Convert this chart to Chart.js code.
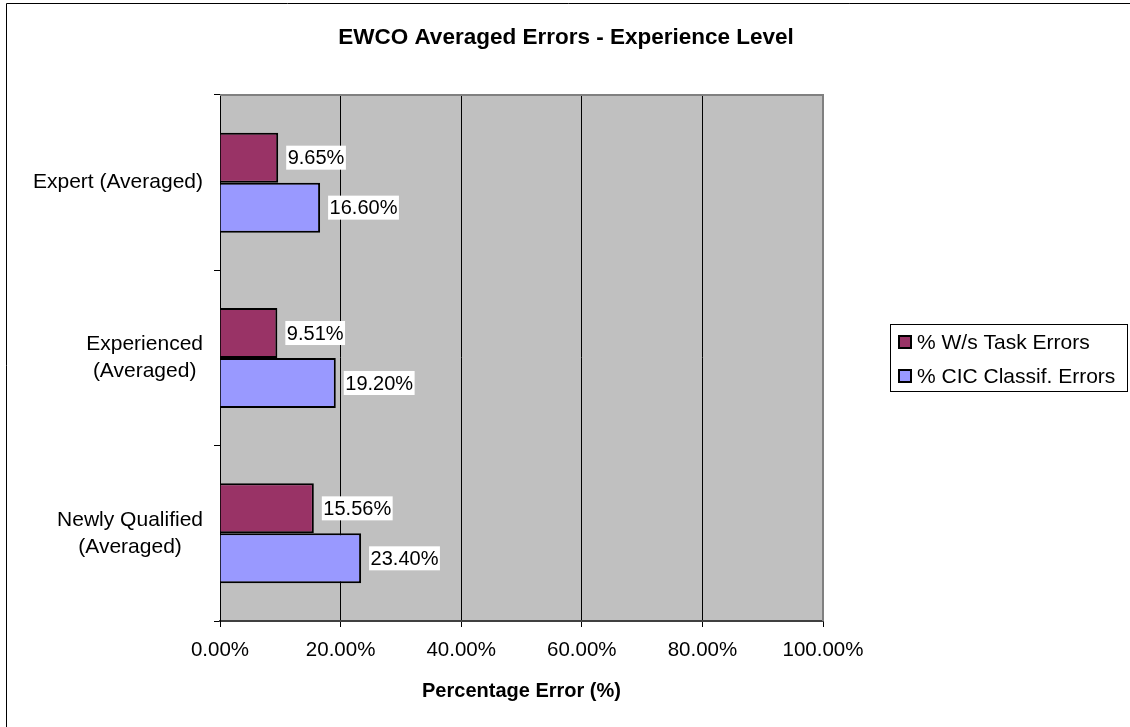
<!DOCTYPE html>
<html lang="en">
<head>
    <meta charset="UTF-8">
    <title>EWCO Averaged Errors - Experience Level</title>
    <script src="https://cdn.jsdelivr.net/npm/chart.js@4.4.0/dist/chart.umd.min.js"></script>
    <style>
        body{
            margin: 0;
            background: #fff;
        }
        #wrap{
            width: 1130px;
            height: 727px;
            position: relative;
        }
    </style>
</head>
<body>
    <div id="wrap">
        <canvas id="canvas"></canvas>
    </div>

<script>
    // categories, top to bottom
    var levels = [
        ['Expert (Averaged)'],
        ['Experienced', '(Averaged)'],
        ['Newly Qualified', '(Averaged)']
    ];
    var taskErrors = [9.65, 9.51, 15.56];      // % W/s Task Errors
    var cicErrors = [16.60, 19.20, 23.40];     // % CIC Classif. Errors
    var seriesNames = ['% W/s Task Errors', '% CIC Classif. Errors'];
    var xTicks = [0, 20, 40, 60, 80, 100];
    var chartTitle = 'EWCO Averaged Errors - Experience Level';

    var FONT = "'Liberation Sans', Arial, sans-serif";

    // white page with the frame line on the left and top, title across the page
    var frame = {
        id: 'frame',
        beforeDraw: function(chart){
            var c = chart.ctx;
            c.save();
            c.fillStyle = '#fff';
            c.fillRect(0, 0, chart.width, chart.height);
            c.strokeStyle = '#000';
            c.lineWidth = 1;
            c.beginPath();
            c.moveTo(6.5, chart.height);
            c.lineTo(6.5, 3.5);
            c.lineTo(chart.width, 3.5);
            c.stroke();
            // grey plot area
            var a = chart.chartArea;
            c.fillStyle = '#C0C0C0';
            c.fillRect(a.left, a.top, a.right - a.left, a.bottom - a.top);
            // title
            c.fillStyle = '#000';
            c.font = 'bold 22.5px ' + FONT;
            c.textAlign = 'center';
            c.textBaseline = 'middle';
            c.fillText(chartTitle, 566, 38);
            c.restore();
        },
        beforeDatasetsDraw: function(chart){
            var c = chart.ctx, a = chart.chartArea;
            c.save();
            c.strokeStyle = '#808080';
            c.lineWidth = 2;
            c.beginPath();
            c.moveTo(a.left, a.top);
            c.lineTo(a.right, a.top);
            c.lineTo(a.right, a.bottom);
            c.stroke();
            c.restore();
        }
    };

    // category labels: block right-aligned, lines centred inside the block
    var catLabels = {
        id: 'catLabels',
        afterDraw: function(chart){
            var c = chart.ctx, y = chart.scales.y;
            c.save();
            c.font = '21px ' + FONT;
            c.fillStyle = '#000';
            c.textAlign = 'center';
            c.textBaseline = 'middle';
            levels.forEach(function(lines, i){
                var w = 0;
                lines.forEach(function(s){ w = Math.max(w, c.measureText(s).width); });
                var cx = y.right - 17 - w / 2;
                var cy = y.getPixelForTick(i);
                lines.forEach(function(s, j){
                    c.fillText(s, cx, cy + (j - (lines.length - 1) / 2) * 27);
                });
            });
            c.restore();
        }
    };

    // value boxes at the end of every bar
    var valueLabels = {
        id: 'valueLabels',
        afterDatasetsDraw: function(chart){
            var c = chart.ctx;
            c.save();
            c.font = '20px ' + FONT;
            c.textBaseline = 'middle';
            c.textAlign = 'left';
            chart.data.datasets.forEach(function(ds, di){
                chart.getDatasetMeta(di).data.forEach(function(bar, i){
                    var txt = ds.data[i].toFixed(2) + '%';
                    var w = c.measureText(txt).width;
                    var x = bar.x + 8;
                    c.fillStyle = '#fff';
                    c.fillRect(x, bar.y - 12, w + 3, 24);
                    c.fillStyle = '#000';
                    c.fillText(txt, x + 1.5, bar.y + 1);
                });
            });
            c.restore();
        }
    };

    // boxed legend to the right of the plot
    var boxLegend = {
        id: 'boxLegend',
        afterDraw: function(chart){
            var c = chart.ctx;
            var lx = 890, ly = 324, lw = 238, lh = 68;
            c.save();
            c.fillStyle = '#fff';
            c.fillRect(lx, ly, lw, lh);
            c.strokeStyle = '#000';
            c.lineWidth = 1;
            c.strokeRect(lx + 0.5, ly + 0.5, lw - 1, lh - 1);
            c.font = '21px ' + FONT;
            c.textBaseline = 'middle';
            chart.data.datasets.forEach(function(ds, i){
                var cy = ly + 18 + i * 34;
                c.fillStyle = ds.backgroundColor;
                c.fillRect(899, cy - 6, 12, 12);
                c.lineWidth = 2;
                c.strokeStyle = '#000';
                c.strokeRect(899, cy - 6, 12, 12);
                c.fillStyle = '#000';
                c.fillText(ds.label, 917, cy + 1);
            });
            c.restore();
        }
    };

    var ctx = document.getElementById('canvas').getContext('2d');
    var myChart = new Chart(ctx, {
        type: 'bar',
        data: {
            labels: levels,
            datasets: [{
                label: seriesNames[0],
                data: taskErrors,
                backgroundColor: '#993366',
                borderColor: '#000',
                borderWidth: 2
            }, {
                label: seriesNames[1],
                data: cicErrors,
                backgroundColor: '#9999FF',
                borderColor: '#000',
                borderWidth: 2
            }]
        },
        options: {
            indexAxis: 'y',
            responsive: true,
            maintainAspectRatio: false,
            animation: false,
            categoryPercentage: 0.57,
            barPercentage: 1,
            layout: {
                padding: { left: 0, right: 307, top: 95, bottom: 0 }
            },
            plugins: {
                legend: { display: false },
                tooltip: { enabled: false },
                title: { display: false }
            },
            scales: {
                x: {
                    min: 0,
                    max: 100,
                    afterBuildTicks: function(s){
                        s.ticks = xTicks.map(function(v){ return { value: v }; });
                    },
                    afterFit: function(s){ s.height = 106; },
                    grid: {
                        color: '#000',
                        lineWidth: 1,
                        tickLength: 6
                    },
                    border: { color: '#404040', width: 2 },
                    ticks: {
                        color: '#000',
                        padding: 11,
                        maxRotation: 0,
                        font: { family: FONT, size: 20.5, lineHeight: 1.2 },
                        callback: function(v){ return v.toFixed(2) + '%'; }
                    },
                    title: {
                        display: true,
                        text: 'Percentage Error (%)',
                        color: '#000',
                        font: { family: FONT, size: 20, weight: 'bold', lineHeight: 1.2 },
                        padding: { top: 0, bottom: 24 }
                    }
                },
                y: {
                    afterFit: function(s){ s.width = 220; },
                    grid: {
                        offset: true,
                        drawOnChartArea: false,
                        color: '#000',
                        tickLength: 6
                    },
                    border: { color: '#000', width: 1 },
                    ticks: { display: false }
                }
            }
        },
        plugins: [frame, valueLabels, catLabels, boxLegend]
    });
</script>
</body>
</html>
